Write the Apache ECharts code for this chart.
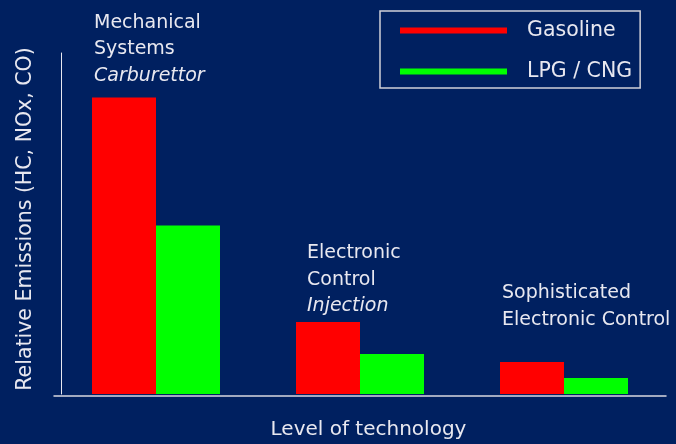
<!DOCTYPE html>
<html>
<head>
<meta charset="utf-8">
<script src="https://cdn.jsdelivr.net/npm/echarts@6/dist/echarts.min.js"></script>
<style>
  html, body { margin: 0; padding: 0; background: #002060; }
  #chart { width: 676px; height: 444px; }
</style>
</head>
<body>
<div id="chart"></div>
<script>
// relative emissions, mechanical carburettor gasoline = 100
const categories = ['Mechanical Systems', 'Electronic Control', 'Sophisticated Electronic Control']
const gasoline = [100, 24.3, 10.8]
const lpgCng = [56.8, 13.5, 5.4]
const techLines = [['Mechanical', 'Systems'], ['Electronic', 'Control'], ['Sophisticated', 'Electronic Control']]
const techSystem = ['Carburettor', 'Injection', '']

const font = 'DejaVu Sans'
const textColor = '#e8e8f0'
// label top-left offset from the red bar's top-left
const labelPos = [[2, -88], [11, -82], [2, -82]]

const gasolineData = gasoline.map((v, i) => ({
  value: v,
  label: {
    show: true,
    position: labelPos[i],
    formatter: () => techLines[i].map(s => '{n|' + s + '}').join('\n') +
      (techSystem[i] ? '\n{it|' + techSystem[i] + '}' : '')
  }
}))

const option = {
  backgroundColor: '#002060',
  animation: false,
  textStyle: { fontFamily: font },
  grid: { left: 54, right: 10, top: 53, bottom: 50, containLabel: false, outerBoundsMode: 'none' },
  legend: {
    orient: 'vertical',
    left: 380,
    top: 11,
    padding: [9, 8, 6, 20],
    itemGap: 20,
    itemWidth: 107,
    itemHeight: 6,
    icon: 'rect',
    borderColor: '#d0d0d8',
    borderWidth: 1.5,
    textStyle: { color: textColor, fontSize: 20.5, lineHeight: 20, fontFamily: font, padding: [0, 0, 0, 15] },
    data: ['Gasoline', 'LPG / CNG']
  },
  xAxis: {
    type: 'category',
    data: categories,
    offset: 2,
    name: 'Level of technology',
    nameLocation: 'middle',
    nameGap: 24,
    nameTextStyle: { color: textColor, fontSize: 20, fontFamily: font, padding: [0, 0, 0, 17] },
    axisLine: { onZero: false, lineStyle: { color: '#d8d8e0', width: 1.5 } },
    axisTick: { show: false },
    axisLabel: { show: false }
  },
  yAxis: {
    type: 'value',
    min: 0,
    max: 115,
    offset: -7,
    name: 'Relative Emissions (HC, NOx, CO)',
    nameLocation: 'middle',
    nameRotate: 90,
    nameGap: 25,
    nameTextStyle: { color: textColor, fontSize: 20.5, fontFamily: font, padding: [0, 0, 0, 9] },
    axisLine: { show: true, lineStyle: { color: '#e8e8f0', width: 1 } },
    axisTick: { show: false },
    axisLabel: { show: false },
    splitLine: { show: false }
  },
  series: [{
    name: 'Gasoline',
    type: 'bar',
    barWidth: 64,
    barGap: '0%',
    itemStyle: { color: '#ff0000' },
    label: {
      rich: {
        n: { color: textColor, fontSize: 19, lineHeight: 26.5, fontFamily: font },
        it: { color: textColor, fontSize: 19, lineHeight: 26.5, fontFamily: font, fontStyle: 'italic' }
      }
    },
    data: gasolineData
  }, {
    name: 'LPG / CNG',
    type: 'bar',
    barWidth: 64,
    itemStyle: { color: '#00ff00' },
    data: lpgCng
  }]
}

const chart = echarts.init(document.getElementById('chart'))
chart.setOption(option)
</script>
</body>
</html>
